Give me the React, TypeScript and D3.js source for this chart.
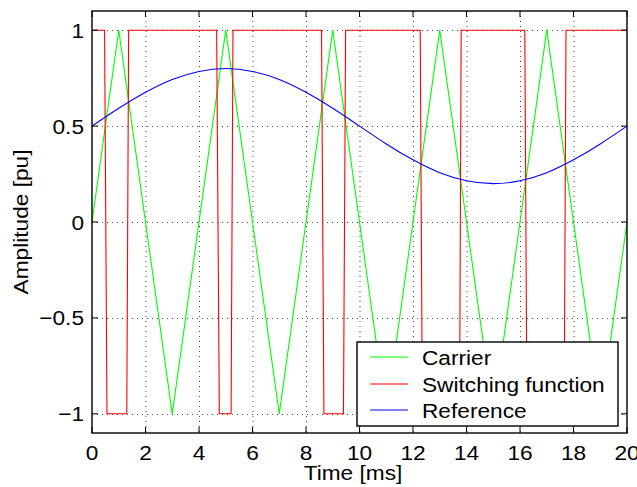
import React from "react";
import * as d3 from "d3";

const W = 637;
const H = 487;

// Carrier (triangle) vertices: time [ms], value [pu]
const carrierT = [0, 1, 3, 5, 7, 9, 11, 13, 15, 17, 19, 20];
const carrierV = [0, 1, -1, 1, -1, 1, -1, 1, -1, 1, -1, 0];

// Reference samples every 1 ms
const refT = [0, 1, 2, 3, 4, 5, 6, 7, 8, 9, 10, 11, 12, 13, 14, 15, 16, 17, 18, 19, 20];
const refV = [0.5, 0.593, 0.676, 0.743, 0.785, 0.8, 0.785, 0.743, 0.676, 0.593, 0.5, 0.407, 0.324, 0.257, 0.215, 0.2, 0.215, 0.257, 0.324, 0.407, 0.5];

// Switching function vertices
const swT = [0, 0.47, 0.56, 1.3, 1.37, 4.66, 4.76, 5.2, 5.27, 8.58, 8.67, 9.4, 9.48, 12.27, 12.35, 13.74, 13.8, 16.18, 16.26, 17.65, 17.72, 20];
const swV = [1, 1, -1, -1, 1, 1, -1, -1, 1, 1, -1, -1, 1, 1, -1, -1, 1, 1, -1, -1, 1, 1];

const xTicks = [0, 2, 4, 6, 8, 10, 12, 14, 16, 18, 20];
const yTicks = [-1, -0.5, 0, 0.5, 1];
const yTickLabels = ["\u22121", "\u22120.5", "0", "0.5", "1"];

const legendNames = ["Carrier", "Switching function", "Reference"];
const legendColors = ["#00ff00", "#ff0000", "#0000ff"];

const FONT = "'Liberation Sans', Arial, Helvetica, sans-serif";

function T(props: { x: number; y: number; anchor?: string; children: React.ReactNode; rotate?: boolean }) {
  const sx = 1.08;
  const tr = props.rotate
    ? `translate(${props.x},${props.y}) rotate(-90) scale(${sx},1)`
    : `translate(${props.x},${props.y}) scale(${sx},1)`;
  return (
    <text transform={tr} textAnchor={props.anchor || "start"} fontSize={21} fill="#000">
      {props.children}
    </text>
  );
}

export default function App() {
  const left = 92, right = 627, top = 11, bottom = 433;
  const x = d3.scaleLinear().domain([0, 20]).range([left, right]);
  const y = d3.scaleLinear().domain([-1.1, 1.1]).range([bottom, top]);

  const line = d3.line<[number, number]>().x((d) => x(d[0])).y((d) => y(d[1]));
  const smooth = d3.line<[number, number]>().x((d) => x(d[0])).y((d) => y(d[1])).curve(d3.curveNatural);

  const carrier = carrierT.map((t, i) => [t, carrierV[i]] as [number, number]);
  const ref = refT.map((t, i) => [t, refV[i]] as [number, number]);
  const sw = swT.map((t, i) => [t, swV[i]] as [number, number]);

  const tickLen = 6;

  const lgX = 357, lgY = 342, lgW = 261, lgH = 84;
  const rowY = [357, 384, 410];

  return (
    <svg width={W} height={H} style={{ position: "absolute", left: 0, top: 0, background: "#fff" }} fontFamily={FONT}>
      <rect x={0} y={0} width={W} height={H} fill="#fff" />
      {/* grid */}
      <g stroke="#000" strokeWidth={1} strokeDasharray="1,4" opacity={0.7}>
        {xTicks.filter((t) => t > 0 && t < 20).map((t) => (
          <line key={"gx" + t} x1={x(t) + 0.5} x2={x(t) + 0.5} y1={top} y2={bottom} />
        ))}
        {yTicks.map((t) => (
          <line key={"gy" + t} x1={left} x2={right} y1={Math.round(y(t)) + 0.5} y2={Math.round(y(t)) + 0.5} />
        ))}
      </g>
      {/* data */}
      <g fill="none" strokeWidth={1.1}>
        <path d={line(carrier) || ""} stroke="#00ff00" />
        <path d={line(sw) || ""} stroke="#ff0000" />
        <path d={smooth(ref) || ""} stroke="#0000ff" />
      </g>
      {/* axes box */}
      <rect x={left} y={top} width={right - left} height={bottom - top} fill="none" stroke="#000" strokeWidth={1.4} />
      {/* ticks */}
      <g stroke="#000" strokeWidth={1}>
        {xTicks.map((t) => (
          <g key={"tx" + t}>
            <line x1={x(t)} x2={x(t)} y1={bottom} y2={bottom - tickLen} />
            <line x1={x(t)} x2={x(t)} y1={top} y2={top + tickLen} />
          </g>
        ))}
        {yTicks.map((t) => (
          <g key={"ty" + t}>
            <line x1={left} x2={left + tickLen} y1={y(t)} y2={y(t)} />
            <line x1={right} x2={right - tickLen} y1={y(t)} y2={y(t)} />
          </g>
        ))}
      </g>
      {/* tick labels */}
      {xTicks.map((t) => (
        <T key={"lx" + t} x={x(t)} y={460} anchor="middle">{String(t)}</T>
      ))}
      {yTicks.map((t, i) => (
        <T key={"ly" + t} x={84} y={y(t) + 7.5} anchor="end">{yTickLabels[i]}</T>
      ))}
      {/* axis labels */}
      <T x={353} y={480} anchor="middle">Time [ms]</T>
      <T x={28} y={(top + bottom) / 2} anchor="middle" rotate>Amplitude [pu]</T>
      {/* legend */}
      <rect x={lgX} y={lgY} width={lgW} height={lgH} fill="#fff" stroke="#000" strokeWidth={1.4} />
      {legendNames.map((n, i) => (
        <g key={n}>
          <line x1={370} x2={408} y1={rowY[i]} y2={rowY[i]} stroke={legendColors[i]} strokeWidth={1.2} />
          <T x={422} y={rowY[i] + 8}>{n}</T>
        </g>
      ))}
    </svg>
  );
}
